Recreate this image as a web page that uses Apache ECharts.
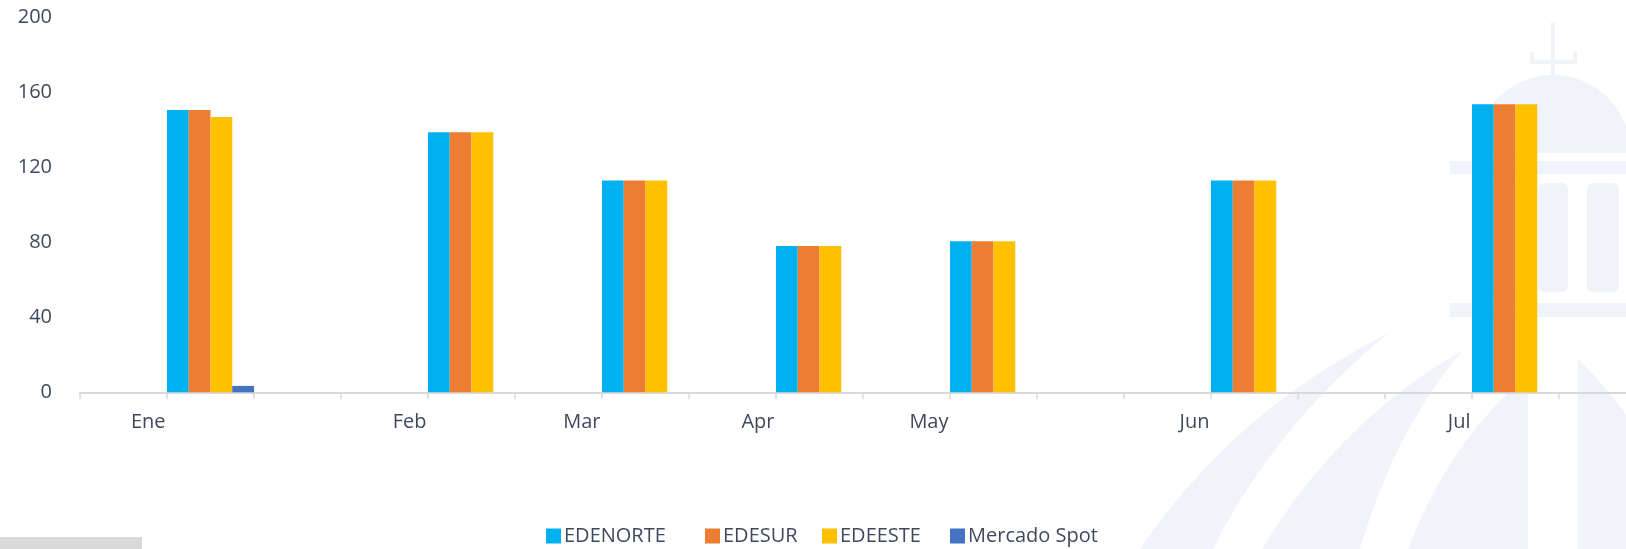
<!DOCTYPE html>
<html>
<head>
<meta charset="utf-8">
<script src="https://cdn.jsdelivr.net/npm/echarts@6/dist/echarts.min.js"></script>
<style>
  html, body { margin: 0; padding: 0; background: #ffffff; }
  #chart { width: 1626px; height: 549px; }
</style>
</head>
<body>
<div id="chart"></div>
<script>
// Axis slots: one slot per period, months labelled where bars are present
const categories = ['', 'Ene', '', '', 'Feb', '', 'Mar', '', 'Apr', '', 'May', '', '', 'Jun', '', '', 'Jul', ''];

const edenorte    = [null, 150.6, null, null, 138.7, null, 112.9, null, 78.0, null, 80.5, null, null, 113.0, null, null, 153.6, null];
const edesur      = [null, 150.6, null, null, 138.7, null, 112.9, null, 78.0, null, 80.5, null, null, 113.0, null, null, 153.6, null];
const edeeste     = [null, 146.8, null, null, 138.7, null, 112.9, null, 78.0, null, 80.5, null, null, 113.0, null, null, 153.6, null];
const mercadoSpot = [null, 3.4,   null, null, null,  null, null,  null, null, null, null, null, null, null,  null, null, null,  null];

const yTicks = [0, 40, 80, 120, 160, 200];

const seriesNames  = ['EDENORTE', 'EDESUR', 'EDEESTE', 'Mercado Spot'];
const seriesColors = ['#00b0f0', '#ed7d31', '#ffc000', '#4472c4'];
const seriesData   = [edenorte, edesur, edeeste, mercadoSpot];

// Left edge of each legend entry
const legendLeft = [546, 705, 822, 950];

const textColor = '#3e4a5c';
const wm = '#f0f3f9';

// Sample a quadratic curve into polygon points
function quad(p0, c, p1, n) {
  const pts = [];
  for (let i = 0; i <= n; i++) {
    const t = i / n, u = 1 - t;
    pts.push([u * u * p0[0] + 2 * u * t * c[0] + t * t * p1[0],
              u * u * p0[1] + 2 * u * t * c[1] + t * t * p1[1]]);
  }
  return pts;
}
function sail(a, ca, tip, cb, b) {
  return quad(a, ca, tip, 24).concat(quad(tip, cb, b, 24).slice(1));
}

// Background emblem (dome, columns and sweeping arcs)
const emblem = [
  { type: 'rect', shape: { x: 1551, y: 22, width: 4, height: 53 } },
  { type: 'rect', shape: { x: 1530, y: 60, width: 47, height: 4 } },
  { type: 'rect', shape: { x: 1530, y: 52, width: 4, height: 12 } },
  { type: 'rect', shape: { x: 1573, y: 52, width: 4, height: 12 } },
  { type: 'sector', shape: { cx: 1553, cy: 153, r0: 0, r: 78, startAngle: Math.PI, endAngle: 2 * Math.PI, clockwise: true } },
  { type: 'rect', shape: { x: 1450, y: 161, width: 180, height: 13 } },
  { type: 'rect', shape: { x: 1489, y: 183, width: 30, height: 109, r: 6 } },
  { type: 'rect', shape: { x: 1538, y: 183, width: 30, height: 109, r: 6 } },
  { type: 'rect', shape: { x: 1587, y: 183, width: 32, height: 109, r: 6 } },
  { type: 'rect', shape: { x: 1450, y: 303, width: 180, height: 14 } },
  { type: 'polygon', shape: { points: sail([1140, 549], [1235, 410], [1389, 333], [1275, 425], [1213, 549]) } },
  { type: 'polygon', shape: { points: sail([1262, 549], [1340, 420], [1462, 351], [1395, 430], [1360, 549]) } },
  { type: 'polygon', shape: { points: quad([1408, 549], [1450, 440], [1528, 375], 24).concat([[1528, 549]]) } },
  { type: 'polygon', shape: { points: quad([1578, 359], [1605, 385], [1630, 420], 24).concat([[1630, 549], [1578, 549]]) } },
  { type: 'rect', shape: { x: 0, y: 537, width: 142, height: 12 }, style: { fill: '#d9d9d9' } }
].map(g => Object.assign({ z: 0, silent: true }, g, { style: Object.assign({ fill: wm }, g.style || {}) }));

const chart = echarts.init(document.getElementById('chart'), null, { renderer: 'canvas' });

chart.setOption({
  backgroundColor: '#ffffff',
  animation: false,
  textStyle: { fontFamily: 'Open Sans', color: textColor },
  graphic: emblem,
  grid: {
    left: 80, top: 17.3, height: 375, width: 1566,
    containLabel: false,
    outerBoundsMode: 'none'
  },
  legend: seriesNames.map((name, i) => ({
    data: [name],
    left: legendLeft[i],
    top: 526,
    padding: 0,
    icon: 'rect',
    itemWidth: 15,
    itemHeight: 15,
    textStyle: { fontSize: 20, color: textColor, fontFamily: 'Open Sans', padding: [0, 0, 0, -2] }
  })),
  xAxis: {
    type: 'category',
    data: categories,
    boundaryGap: true,
    axisLine: { show: true, lineStyle: { color: '#d9d9d9', width: 2 } },
    axisTick: { show: true, interval: 0, length: 7, lineStyle: { color: '#d9d9d9', width: 1.5 } },
    axisLabel: {
      interval: 0,
      align: 'right',
      padding: [0, 45, 0, 0],
      margin: 20,
      fontSize: 20,
      color: textColor,
      fontFamily: 'Open Sans'
    },
    splitLine: { show: false }
  },
  yAxis: {
    type: 'value',
    min: yTicks[0],
    max: yTicks[yTicks.length - 1],
    interval: yTicks[1] - yTicks[0],
    axisLine: { show: false },
    axisTick: { show: false },
    splitLine: { show: false },
    axisLabel: { fontSize: 20, color: textColor, margin: 28, fontFamily: 'Open Sans' }
  },
  series: seriesNames.map((name, i) => ({
    name: name,
    type: 'bar',
    data: seriesData[i],
    barGap: '0%',
    barCategoryGap: '0%',
    itemStyle: { color: seriesColors[i] },
    z: 2
  }))
});
</script>
</body>
</html>
